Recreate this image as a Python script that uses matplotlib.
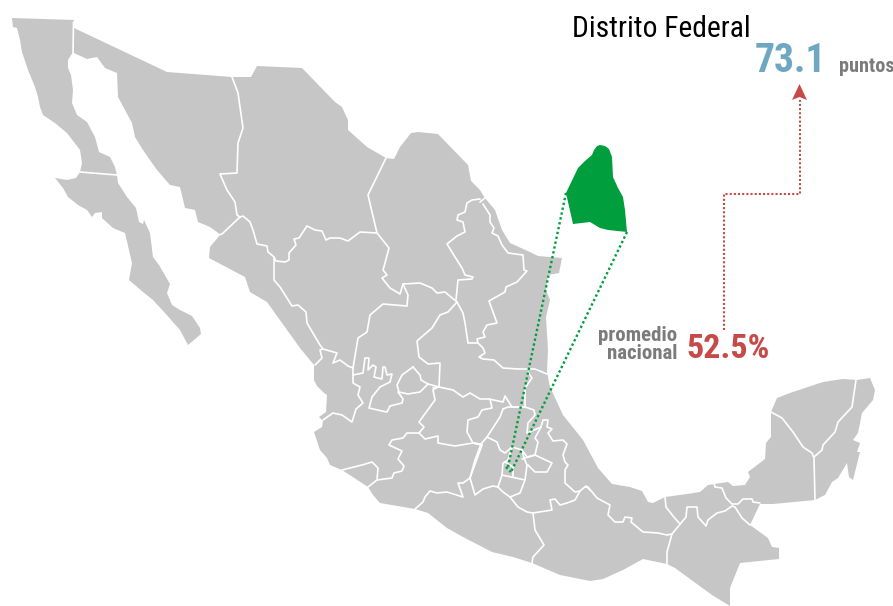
import matplotlib
matplotlib.use("Agg")
import matplotlib.pyplot as plt
from matplotlib.patches import Polygon

GREY = "#c6c6c6"
GREEN = "#009e3d"
RED = "#c54a48"
BLUE = "#6ea7c1"
TXT_GREY = "#7b7b7b"

# outlines (x, y in image pixels)
baja_norte = [(12,18),(74,20),(73,30),(73,52),(68,60),(68,68),(71,75),(73,90),(72,103),(77,115),(87,122),
              (95,137),(99,152),(110,157),(115,167),(117,175),(80,172),(82,163),(80,150),(67,133),(55,123),
              (43,115),(40,107),(38,97),(35,87),(28,70),(22,52),(20,40),(17,28),(13,27)]
baja_sur = [(80,172),(117,175),(118,183),(127,197),(136,208),(139,222),(143,224),(144,220),(150,233),(153,257),
            (159,265),(170,284),(167,293),(172,305),(180,310),(192,316),(200,328),(201,334),(188,345),(180,330),
            (165,313),(153,300),(143,292),(129,280),(132,263),(125,233),(113,228),(102,218),(102,212),(95,213),
            (92,217),(87,210),(78,205),(68,197),(63,188),(55,178),(67,180),(76,178)]
mainland = [(74,28),(167,72),(232,77),(251,77),(257,66),(302,68),(335,102),(342,107),(348,120),(348,130),(367,147),
            (386,158),(394,159),(400,147),(411,133),(418,132),(438,134),(468,165),(471,181),(480,190),(485,198),
            (495,210),(502,230),(510,243),(530,252),(538,256),(562,258),(559,273),(548,275),(546,290),(550,300),
            (546,317),(548,350),(547,372),(550,387),(563,415),(583,440),(598,468),(612,484),(630,487),(642,491),
            (648,502),(653,503),(665,497),(687,494),(700,492),(708,485),(728,482),(733,486),(745,485),(750,477),
            (748,472),(765,459),(766,443),(771,437),(771,412),(777,398),(790,393),(823,382),(843,379),(857,380),
            (870,378),(875,390),(873,400),(862,413),(858,433),(853,440),(860,443),(857,452),(860,452),(853,480),
            (849,477),(847,463),(838,478),(832,482),(825,495),(815,500),(773,504),(760,504),(750,525),(768,538),
            (772,547),(779,548),(779,559),(740,563),(730,588),(730,606),(712,595),(675,568),(667,564),(643,559),
            (623,570),(603,579),(590,581),(560,575),(532,563),(513,557),(492,552),(463,537),(447,528),(428,513),
            (415,509),(380,503),(373,495),(368,487),(342,470),(330,465),(327,458),(320,450),(314,432),(322,427),
            (323,421),(319,417),(326,412),(327,395),(324,393),(317,386),(314,380),(314,365),(300,348),(267,302),
            (250,292),(245,277),(209,258),(210,247),(220,235),(217,232),(210,227),(198,222),(195,210),(185,208),
            (180,187),(170,185),(157,170),(143,150),(135,137),(132,123),(118,97),(117,73),(105,68),(97,57),(87,59),
            (74,53)]
df_shape = [(566,193),(578,168),(585,161),(592,155),(594,150),(597,146),(600,145),(605,146),(609,149),(612,157),
            (613,177),(618,188),(623,197),(625,210),(627,232),(608,230),(600,228),(590,222),(573,224)]

# state borders
b_bc_son = [(73.5,22),(73,52)]
b_bc_bcs = [(80,172),(117,175)]
b_son_chih = [(232,77),(238,93),(243,128),(238,143),(237,173),(220,174),(227,190),(235,202),(237,215),(240,217)]
b_son_sin = [(240,217),(222,234),(218,235)]
b_chih_south = [(240,217),(243,216),(250,222),(253,230),(257,244),(267,246),(268,252),(274,257),(276,261),(285,262),
                (289,260),(289,253),(296,245),(294,239),(299,238),(307,226),(315,230),(322,231),(326,240),(330,238),
                (340,238),(348,241),(360,232),(377,233)]
b_chih_coah = [(386,158),(368,195),(377,233)]
b_sin_dgo = [(274,257),(274,280),(280,287),(292,306),(298,305),(306,312),(307,323),(320,345),(323,349),(320,350),
             (322,358),(315,365)]
b_dgo_coah = [(377,233),(389,248),(385,263),(383,270),(387,275),(382,278),(390,288),(400,294),(403,284)]
b_dgo_zac = [(403,284),(408,295),(407,306),(383,304),(370,315),(367,332),(358,338),(353,368),(348,366),(340,360),
             (333,363),(337,353),(323,349)]
b_coah_zac = [(403,284),(420,283),(432,288),(437,293),(445,292),(457,302)]
b_coah_nl = [(480,199),(472,200),(467,203),(465,212),(458,215),(457,220),(463,222),(465,232),(457,236),(447,244),
             (455,257),(462,268),(465,275),(473,277),(472,279),(458,280),(457,290),(456,300)]
b_top_gap = [(480,202),(485,198)]
b_nl_tamps = [(483,204),(490,215),(490,222),(494,228),(492,233),(498,236),(502,245),(508,253),(523,255),(524,270),
              (527,271),(517,282),(506,287),(505,292),(489,301),(493,312),(497,323),(487,325),(483,332),(485,337),
              (477,339),(478,343),(468,343),(465,323),(463,313),(457,302)]
b_tamps_ver = [(478,343),(483,348),(485,353),(479,357),(483,359),(494,360),(503,368),(518,369),(535,369),(547,374)]
b_zac_slp = [(457,302),(448,312),(440,315),(432,328),(417,341),(419,357),(428,364),(440,363),(439,387)]
b_ags = [(413,367),(420,375),(421,380),(428,384),(420,392),(408,394),(399,392),(397,385),(402,375),(413,367)]
b_ags_link = [(428,384),(439,387)]
b_slp_south = [(439,387),(453,390),(463,397),(470,393),(480,399),(489,399),(503,402),(505,396),(512,407),(520,407),
               (525,407)]
b_hgo_ver = [(528,372),(532,378),(525,388),(525,407),(534,410),(535,415),(528,423),(527,433),(541,427),(535,438),
             (538,442),(535,455)]
b_qro = [(490,399),(492,408),(482,410),(478,417),(468,420),(467,432),(473,443),(482,445)]
b_hgo_top = [(503,409),(508,407),(520,407)]
b_hgo_west = [(503,409),(500,417),(487,437),(481,444),(473,443)]
b_hgo_south = [(487,437),(497,442),(500,450),(505,453),(512,447),(522,450),(527,457),(535,455)]
b_gro_mich = [(470,478),(482,445),(473,443),(455,446),(438,443),(438,436),(425,439),(419,433),(407,433),(403,438),
              (392,440),(389,445),(402,451),(398,459),(404,466),(402,471),(394,473),(392,478),(377,480),(368,487)]
b_colima = [(342,470),(362,465),(372,462),(378,468),(377,480)]
b_jal_gto = [(419,433),(424,427),(419,422),(435,400),(433,390),(438,387)]
b_gto_north = [(439,387),(433,388)]
b_nay_jal = [(323,420),(333,413),(342,415),(352,422),(356,409),(363,403),(358,395),(360,387),(353,383),(353,368)]
b_zac_zig = [(353,375),(363,373),(365,358),(369,358),(368,370),(373,365),(376,367),(374,377),(382,379),(383,367),
             (385,367),(387,375),(392,374),(390,382),(380,387),(372,397),(369,408),(382,411),(387,412),(390,406),
             (402,403),(403,399),(398,392)]
b_mex_west = [(481,444),(475,460),(470,478),(475,495),(483,489),(493,486),(498,487),(503,492),(510,497),(520,493),
              (525,480),(502,475),(498,487)]
b_df = [(502,475),(503,463),(508,460),(512,447)]
b_df_inner = [(505,462),(513,467),(513,477)]
b_mex_east = [(522,450),(524,458),(527,465),(525,480)]
b_tlax = [(522,459),(535,455),(552,463),(547,472),(535,472),(528,465)]
b_gro_oax = [(470,478),(463,483),(458,483),(463,497),(447,492),(437,493),(430,491),(425,497),(423,502),(415,509)]
b_oax_north = [(510,497),(518,507),(527,512),(533,513),(552,510),(550,500),(555,499),(560,505),(567,503),(575,500),
               (580,491),(586,486),(590,490)]
b_oax_chis = [(533,513),(535,530),(544,545),(533,557),(532,563)]
b_pue_ver = [(541,427),(543,420),(548,420),(547,427),(552,429),(548,433),(553,441),(563,440),(567,444),(563,455),
             (565,462),(568,465),(565,470),(565,483),(575,492),(580,491)]
b_oax_ver = [(585,487),(588,487),(597,498),(610,505),(608,515),(615,522),(623,522),(625,517),(632,518),(631,522),
             (643,532),(658,533),(667,535),(672,534)]
b_chis_oax = [(672,534),(667,552),(667,564)]
b_tab_ver = [(665,497),(666,507),(673,516),(680,524)]
b_tab_chis = [(750,525),(742,518),(735,507),(732,506),(725,511),(717,513),(708,520),(706,526),(698,517),(697,507),
              (687,507),(686,517),(672,534)]
b_tab_camp = [(714,483),(715,487),(722,488),(726,498),(732,504),(738,504),(743,499),(752,499),(753,502),(760,503)]
b_camp_yuc = [(771,412),(782,418),(793,432),(803,447),(812,453),(814,458),(815,500)]
b_yuc_qroo = [(856,380),(852,407),(838,422),(835,432),(823,445),(822,450),(814,457)]

borders = [b_bc_son, b_bc_bcs, b_son_chih, b_son_sin, b_chih_south, b_chih_coah, b_sin_dgo, b_dgo_coah, b_dgo_zac,
           b_coah_zac, b_coah_nl, b_top_gap, b_nl_tamps, b_tamps_ver, b_zac_slp, b_ags, b_ags_link, b_slp_south,
           b_hgo_ver, b_qro, b_hgo_top, b_hgo_west, b_hgo_south, b_gro_mich, b_colima, b_jal_gto, b_gto_north,
           b_nay_jal, b_zac_zig, b_mex_west, b_df, b_df_inner, b_mex_east, b_tlax, b_gro_oax, b_oax_north, b_oax_chis,
           b_pue_ver, b_oax_ver, b_chis_oax, b_tab_ver, b_tab_chis, b_tab_camp, b_camp_yuc, b_yuc_qroo]

zoom_left = [(566,193),(508,467)]
zoom_right = [(627,232),(511,472)]
zoom_tick = [(506,467),(511,472)]
red_path = [(723.5,330),(723.5,194),(799.5,194),(799.5,100)]
arrow_head = [(799.5,84),(792,100),(799.5,97),(807,100)]

fig = plt.figure(figsize=(8.93, 6.06), dpi=100)
ax = fig.add_axes([0, 0, 1, 1])
ax.set_xlim(0, 893)
ax.set_ylim(606, 0)
ax.axis("off")

for shape in [baja_norte, baja_sur, mainland]:
    ax.add_patch(Polygon(shape, closed=True, fc=GREY, ec="none", zorder=1))

for line in borders:
    xs, ys = zip(*line)
    ax.plot(xs, ys, color="white", lw=1.2, solid_joinstyle="round", solid_capstyle="round", zorder=2)

ax.add_patch(Polygon(df_shape, closed=True, fc=GREEN, ec="none", zorder=3))

for line in [zoom_left, zoom_right, zoom_tick]:
    xs, ys = zip(*line)
    ax.plot(xs, ys, color=GREEN, lw=1.7, linestyle=(0, (1, 1.1)), zorder=4)

xs, ys = zip(*red_path)
ax.plot(xs, ys, color=RED, lw=1.5, linestyle=(0, (1, 1)), zorder=4)
ax.add_patch(Polygon(arrow_head, closed=True, fc=RED, ec="none", zorder=5))

narrow = "Roboto Condensed"
ax.text(572, 37, "Distrito Federal", family=narrow, fontsize=21.3, color="black", va="baseline", ha="left")
ax.text(755, 72, "73.1", family=narrow, fontweight="bold", fontsize=28.5, color=BLUE, va="baseline", ha="left")
ax.text(839, 72, "puntos", family=narrow, fontweight="bold", fontsize=14.5, color=TXT_GREY, va="baseline", ha="left")
ax.text(677, 341, "promedio", family=narrow, fontweight="bold", fontsize=15, color=TXT_GREY, va="baseline", ha="right")
ax.text(677, 359, "nacional", family=narrow, fontweight="bold", fontsize=15, color=TXT_GREY, va="baseline", ha="right")
ax.text(686, 358, "52.5%", family=narrow, fontweight="bold", fontsize=24.5, color=RED, va="baseline", ha="left")

fig.savefig("out.png", dpi=100)
